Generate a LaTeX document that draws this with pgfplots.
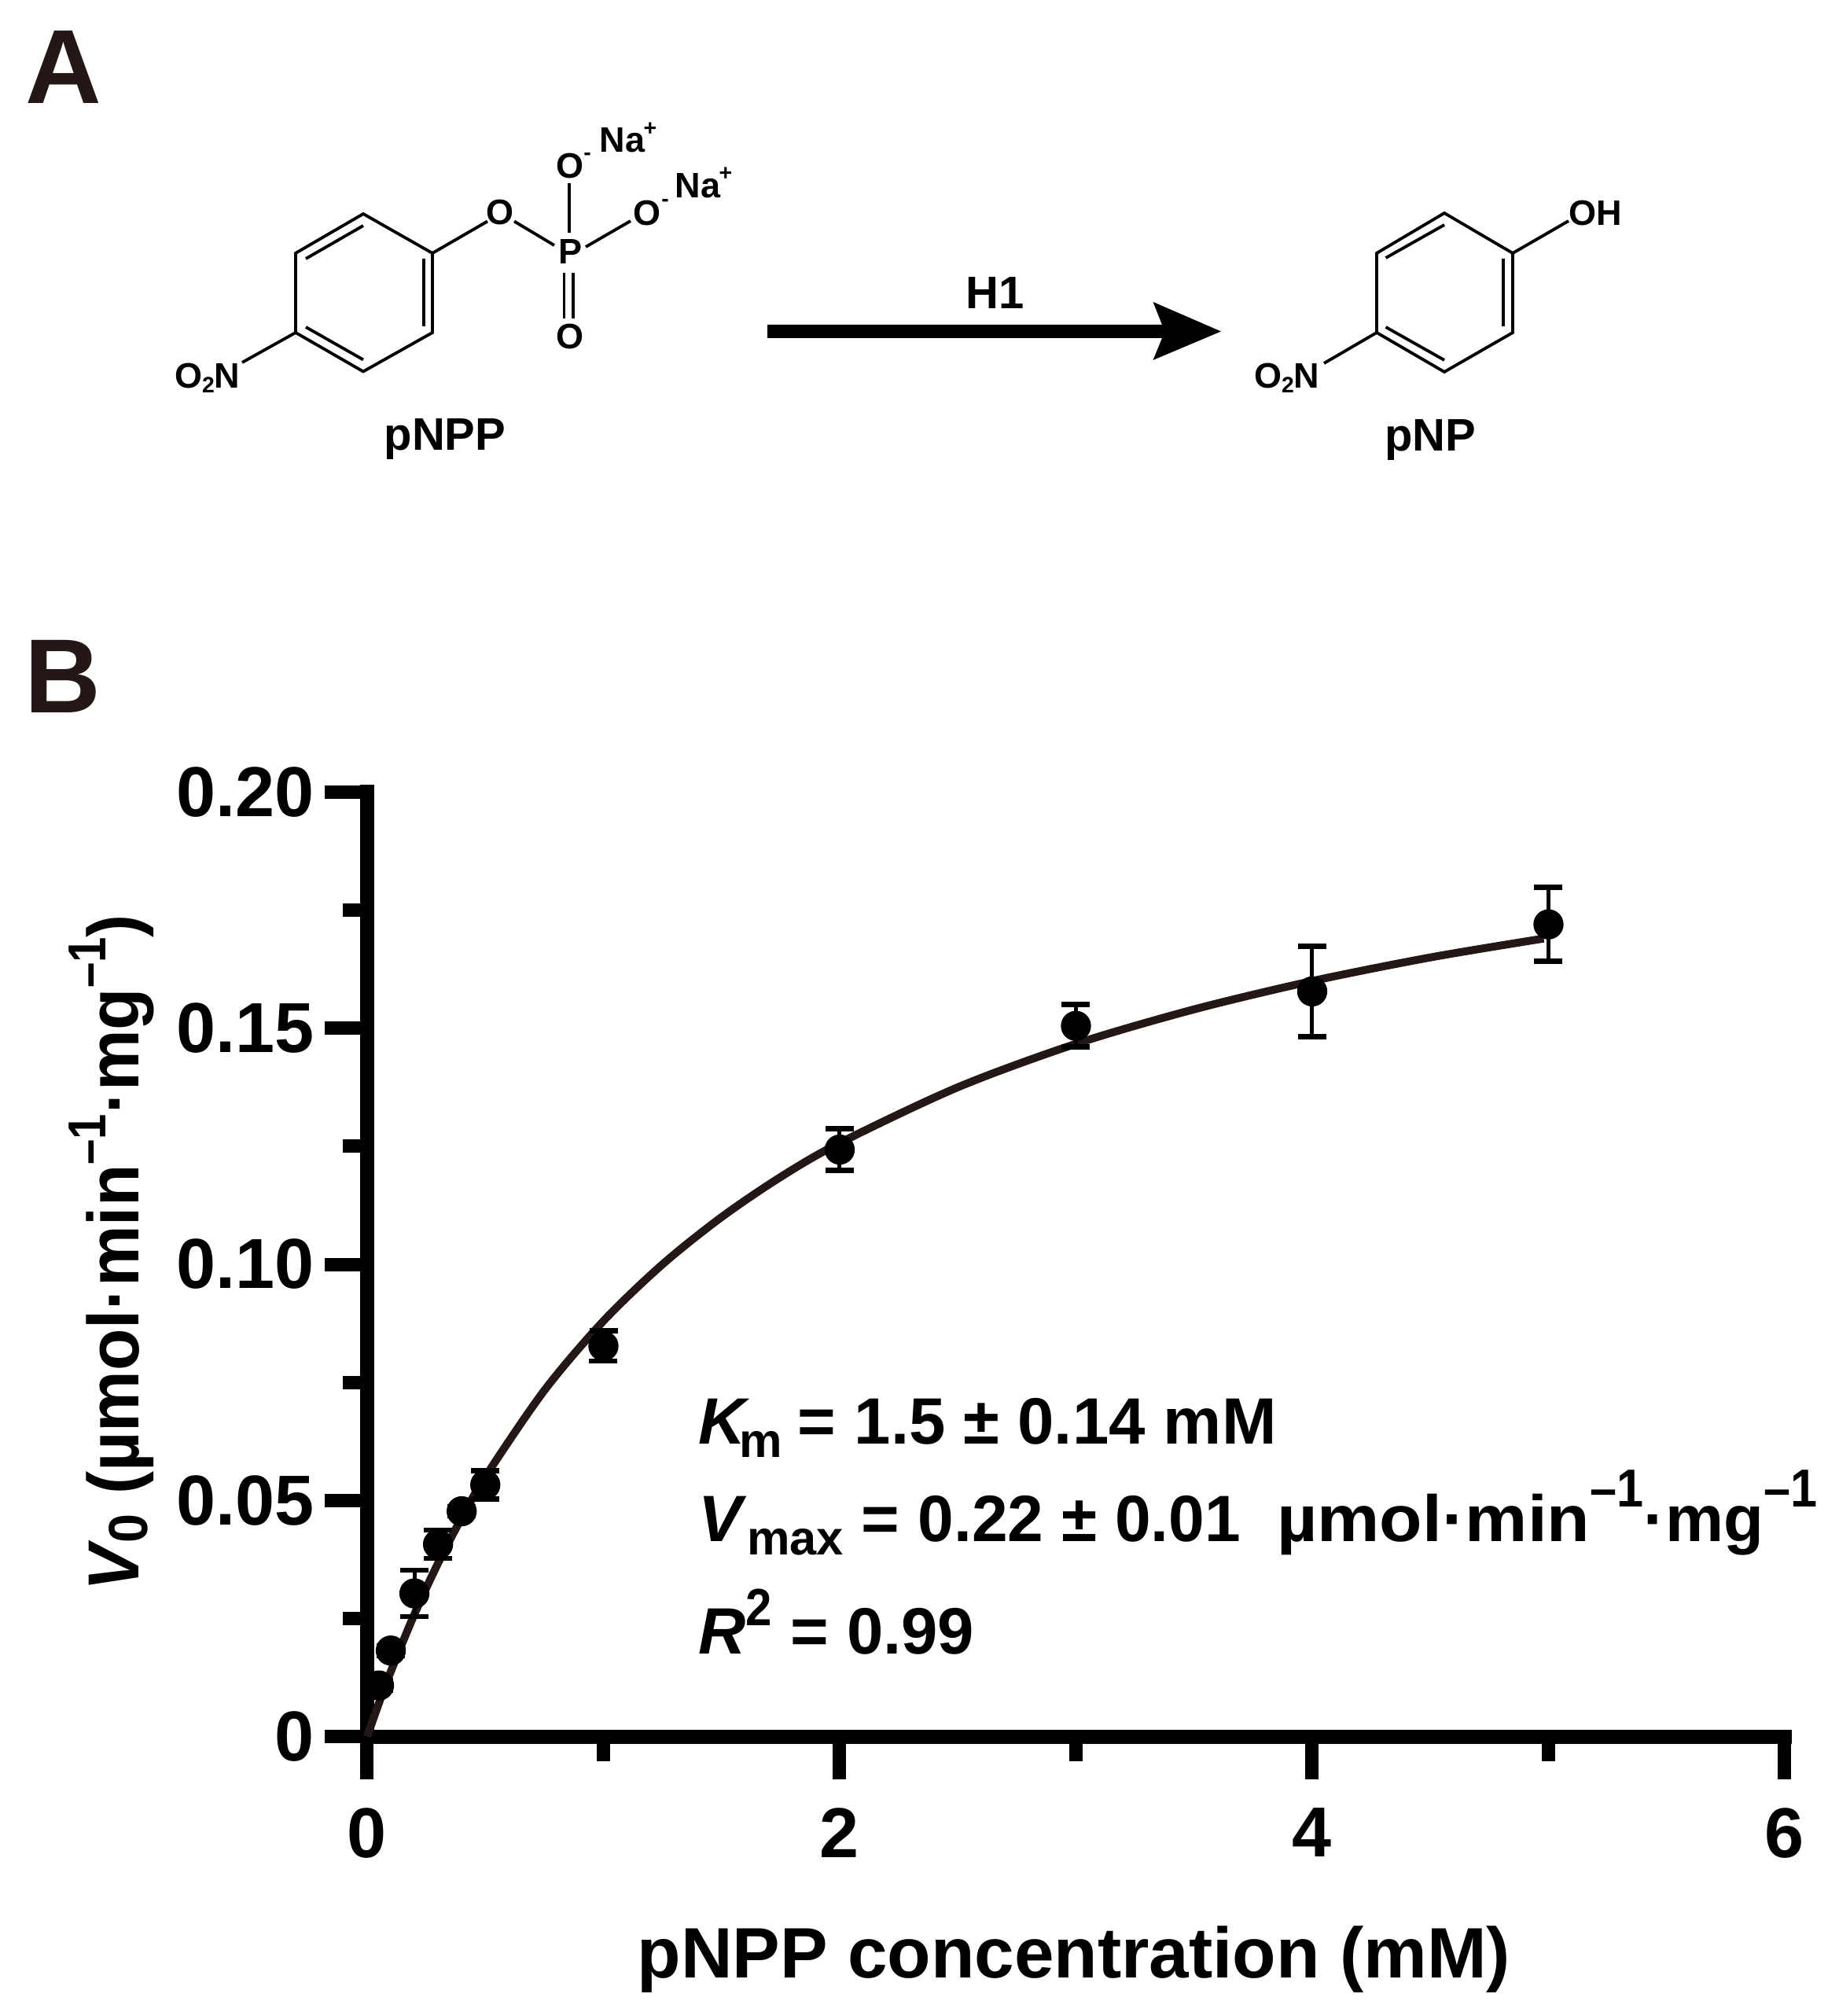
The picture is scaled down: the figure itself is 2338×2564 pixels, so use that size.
\documentclass[border=0pt]{standalone}
\usepackage{fontspec}
\setmainfont{Liberation Sans}
\usepackage{graphicx}
\usepackage{pgfplots}
\usepackage{pgfplotstable}
\pgfplotsset{compat=1.18}

\definecolor{richblack}{RGB}{35,24,21}

% 1 unit of the scope = 1 pixel of the reference = 0.3pt
\newcommand{\fs}[1]{\fontsize{#1}{#1}\selectfont}
\newcommand{\up}[3]{\raisebox{#1}{\fs{#2}\scalebox{0.9}[1]{#3}}}
\newcommand{\dn}[3]{\raisebox{-#1}{\fs{#2}#3}}

\pgfplotstableread{
x    y      e
0.05 0.0108 0.001
0.1  0.0182 0.001
0.2  0.0303 0.0049
0.3  0.0407 0.0030
0.4  0.0477 0.001
0.5  0.0533 0.0030
1    0.0827 0.0032
2    0.1243 0.0044
3    0.1505 0.0045
4    0.1578 0.0096
5    0.1720 0.0078
}\measured

\begin{document}
\begin{tikzpicture}

\begin{axis}[
  at={(140.1pt,-662.55pt)},
  anchor=south west,
  scale only axis,
  width=540.9pt,
  height=360.3pt,
  xmin=0, xmax=6,
  ymin=0, ymax=0.2,
  clip=false,
  axis lines=left,
  axis line style={-,line width=5.4pt,line cap=rect},
  tick align=outside,
  xtick={0,2,4,6},
  ytick={0,0.05,0.1,0.15,0.2},
  yticklabels={0,0.05,0.10,0.15,0.20},
  xticklabels={0,2,4,6},
  minor x tick num=1,
  minor y tick num=1,
  major tick length=16.2pt,
  minor tick length=9.45pt,
  every tick/.append style={black,line width=5.1pt},
  tick label style={font=\bfseries\fs{27pt},inner sep=0pt},
  x tick label style={anchor=north,yshift=-10.8pt},
  y tick label style={anchor=east,xshift=-3.8pt},
]
\addplot[richblack,line width=3pt,smooth,no markers] coordinates {
(0,0) (0.05,0.0071) (0.1,0.01375) (0.2,0.0259) (0.3,0.0367) (0.4,0.0463)
(0.5,0.055) (0.75,0.0733) (1,0.088) (1.25,0.1) (1.5,0.11) (1.75,0.1185)
(2,0.1257) (2.5,0.1375) (3,0.1467) (3.5,0.154) (4,0.16) (4.5,0.165) (4.98,0.1690)
};
\addplot[only marks,black,mark=*,mark size=5.55pt,
  error bars/.cd,y dir=both,y explicit,
  error bar style={line width=1.5pt},
  error mark options={rotate=90,mark size=5.4pt,line width=2pt}]
  table[x=x,y=y,y error=e]{\measured};
\end{axis}

\begin{scope}[x=0.3pt,y=-0.3pt,
  bond/.style={line width=1.15pt},
  chem/.style={inner sep=0pt,font=\bfseries\fs{13.5pt}},
  small/.style={inner sep=0pt,font=\bfseries\fs{8.5pt}},
  name/.style={inner sep=0pt,anchor=base,font=\bfseries\fs{17.4pt}},
  note/.style={inner sep=0pt,anchor=base west,font=\bfseries\fs{25pt}},
  panel/.style={inner sep=0pt,anchor=base west,text=richblack,font=\bfseries\fs{40.2pt}}]

\path[use as bounding box] (0,0) rectangle (2338,2564);

% axis titles
\node[inner sep=0pt,anchor=base,font=\bfseries\fs{27.25pt}] at (1366,2515)
  {pNPP concentration (mM)};
\node[inner sep=0pt,anchor=base west,rotate=90,xscale=0.95,font=\bfseries\fs{27.6pt}] at (176,2024)
  {\textit{V}\hspace{-1pt}\dn{3.3pt}{21pt}{0} (µmol·min\up{12.6pt}{20.4pt}{–1}·mg\up{12.6pt}{20.4pt}{–1})};

% fit results
\node[note] at (888,1836) {\textit{K}\hspace{-4pt}\dn{5.1pt}{18.4pt}{m}\hspace{-1pt} = 1.5 ± 0.14 mM};
\node[note] at (888,1960) {\textit{V}\dn{5.1pt}{18.4pt}{max} = \scalebox{0.985}[1]{0.22 ± 0.01}\ \ \scalebox{1.07}[1]{µmol·min}\up{13.2pt}{20.4pt}{–1}·mg\up{13.2pt}{20.4pt}{–1}};
\node[note] at (888,2103) {\textit{R}\up{10.8pt}{20pt}{2} = 0.99};

% panel letters
\node[panel] at (32,132) {A};
\node[panel] at (31,906) {B};

% pNPP
\draw[bond] (462,272)--(550,322)--(550,423)--(462,472.5)--(376,423)--(376,322)--cycle;
\draw[bond] (389,329)--(462,287) (539,329)--(539,415) (389,416)--(462,457.5);
\draw[bond] (376,423)--(308,461) (550,322)--(620,281.5) (654,281.5)--(705,312);
\draw[bond] (724,233)--(724,296) (745,314)--(802,281);
\draw[bond] (717.5,347)--(717.5,405) (729,347)--(729,405);
\node[chem] at (636,270) {O};
\node[chem] at (725,211.5) {O};
\node[chem] at (823,271) {O};
\node[chem] at (725,320) {P};
\node[chem] at (725,428) {O};
\node[small] at (747,199) {-};
\node[small] at (846,258) {-};
\node[chem,anchor=base west] at (762,194) {Na};
\node[chem,anchor=base west] at (858,252) {Na};
\node[small] at (827,164) {+};
\node[small] at (923,221) {+};
\node[chem,anchor=base east] at (306,493.5) {O\dn{1.8pt}{8.5pt}{2}N};
\node[name] at (566,573) {pNPP};

% reaction arrow
\fill[black] (976,413)--(1478,413)--(1466.5,384)--(1553,421.5)--(1466.5,458)--(1478,430)--(976,430)--cycle;
\node[name] at (1266,393) {H1};

% pNP
\draw[bond] (1837,271)--(1924,322)--(1924,423)--(1837,473)--(1751,423)--(1751,322)--cycle;
\draw[bond] (1762.5,328)--(1837,286) (1912,329)--(1912,415) (1762.5,416)--(1837,458);
\draw[bond] (1924,322)--(1995,281) (1751,423)--(1684,462);
\node[chem,anchor=base west] at (1995,287) {OH};
\node[chem,anchor=base east] at (1679,494) {O\dn{1.8pt}{8.5pt}{2}N};
\node[name] at (1819,574) {pNP};
\end{scope}
\end{tikzpicture}
\end{document}
